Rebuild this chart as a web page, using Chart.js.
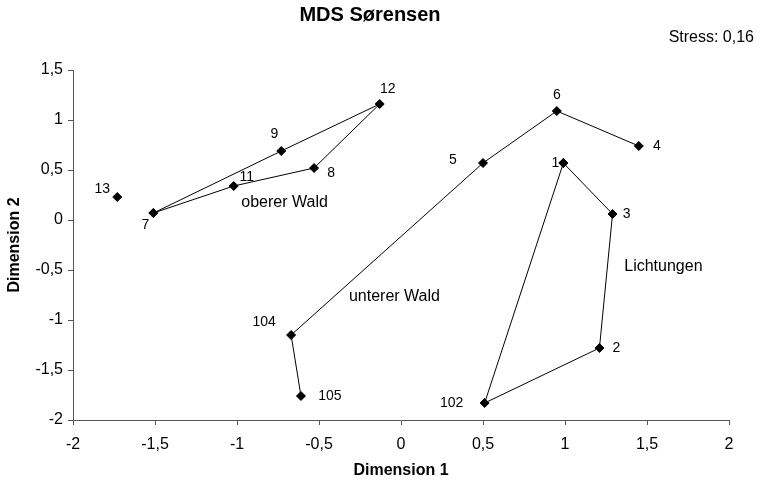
<!DOCTYPE html>
<html>
<head>
<meta charset="utf-8">
<script src="https://cdn.jsdelivr.net/npm/chart.js@4/dist/chart.umd.min.js"></script>
<style>
html,body{margin:0;padding:0;background:#fff;}
#wrap{width:761px;height:480px;position:relative;}
</style>
</head>
<body>
<div id="wrap"><canvas id="c" width="761" height="480"></canvas></div>
<script>
// ---- data ----
const sites = ['1','2','3','4','5','6','7','8','9','11','12','13','102','104','105'];
const dim1  = [0.99, 1.21, 1.29, 1.45, 0.50, 0.95, -1.51, -0.53, -0.73, -1.02, -0.13, -1.73, 0.51, -0.67, -0.61];
const dim2  = [0.57, -1.28, 0.06, 0.74, 0.57, 1.09, 0.07, 0.52, 0.69, 0.34, 1.16, 0.23, -1.83, -1.15, -1.76];

const obererWald  = ['7','9','12','8','11','7'];
const untererWald = ['105','104','5','6','4'];
const lichtungen  = ['1','3','2','102','1'];
const ungrouped   = ['13'];

const groupNames = ['oberer Wald', 'unterer Wald', 'Lichtungen'];
const groupLabelX = [-0.71, -0.04, 1.60];
const groupLabelY = [0.17, -0.77, -0.47];

const titleText = 'MDS Sørensen';
const stressText = 'Stress: 0,16';
const xTitle = 'Dimension 1';
const yTitle = 'Dimension 2';

// ---- styling (label placement offsets in px) ----
const labelOffsets = {'1':[-8,0],'2':[17,0],'3':[14,0],'4':[18,0],'5':[-30,-3],'6':[0,-16],
  '7':[-8,12],'8':[17,5],'9':[-7,-17],'11':[13,-9],'12':[8,-15],'13':[-15,-8],
  '102':[-33,0],'104':[-27,-13],'105':[29,0]};
const FONT = "'Liberation Sans', Arial, sans-serif";

function pts(ids){
  return ids.map(id => { const i = sites.indexOf(id); return {x: dim1[i], y: dim2[i], id: id}; });
}
function fmt(v){ return String(Math.round(v*10)/10).replace('.', ','); }

const dsBase = {
  showLine: true, borderColor: '#000', borderWidth: 1,
  pointStyle: 'rectRot', pointRadius: 4.5, pointBorderWidth: 1,
  pointBackgroundColor: '#000', pointBorderColor: '#000', fill: false, tension: 0
};

const labelPlugin = {
  id: 'labels',
  afterDatasetsDraw(chart){
    const ctx = chart.ctx, xs = chart.scales.x, ys = chart.scales.y;
    ctx.save();
    ctx.fillStyle = '#000';
    ctx.textAlign = 'center';
    ctx.textBaseline = 'middle';
    ctx.font = '14px ' + FONT;
    sites.forEach((id, i) => {
      const o = labelOffsets[id] || [10,0];
      ctx.fillText(id, xs.getPixelForValue(dim1[i]) + o[0], ys.getPixelForValue(dim2[i]) + o[1]);
    });
    ctx.font = '16px ' + FONT;
    groupNames.forEach((g, i) => {
      ctx.fillText(g, xs.getPixelForValue(groupLabelX[i]), ys.getPixelForValue(groupLabelY[i]));
    });
    ctx.textAlign = 'right';
    ctx.fillText(stressText, 754, 38);
    ctx.restore();
  }
};

new Chart(document.getElementById('c'), {
  type: 'scatter',
  data: {
    datasets: [
      Object.assign({label: 'oberer Wald', data: pts(obererWald)}, dsBase),
      Object.assign({label: 'unterer Wald', data: pts(untererWald)}, dsBase),
      Object.assign({label: 'Lichtungen', data: pts(lichtungen)}, dsBase),
      Object.assign({label: 'ungrouped', data: pts(ungrouped)}, dsBase, {showLine: false})
    ]
  },
  options: {
    responsive: false,
    animation: false,
    layout: { padding: { left: 11, right: 32, top: 0, bottom: 0 } },
    plugins: {
      legend: { display: false },
      tooltip: { enabled: false },
      title: {
        display: true, text: titleText, color: '#000',
        font: { family: FONT, size: 20, weight: 'bold', lineHeight: 1.2 },
        padding: { top: 3, bottom: 43 }
      }
    },
    scales: {
      x: {
        type: 'linear', min: -2, max: 2,
        ticks: { stepSize: 0.5, color: '#000', padding: 10, maxRotation: 0,
                 font: { family: FONT, size: 16, lineHeight: 1.2 }, callback: v => fmt(v) },
        grid: { display: true, drawOnChartArea: false, drawTicks: true, tickLength: 5, color: '#555' },
        border: { display: true, color: '#555', width: 1 },
        title: { display: true, text: xTitle, color: '#000', padding: { top: 0, bottom: 0 },
                 font: { family: FONT, size: 16, weight: 'bold', lineHeight: 1.2 } },
        afterFit(s){ s.height = 60; }
      },
      y: {
        type: 'linear', min: -2, max: 1.5,
        ticks: { stepSize: 0.5, color: '#000', padding: 5,
                 font: { family: FONT, size: 16, lineHeight: 1.2 }, callback: v => fmt(v) },
        grid: { display: true, drawOnChartArea: false, drawTicks: true, tickLength: 5, color: '#555' },
        border: { display: true, color: '#555', width: 1 },
        title: { display: true, text: yTitle, color: '#000', padding: { top: -6.5, bottom: 0 },
                 font: { family: FONT, size: 16, weight: 'bold', lineHeight: 1.2 } },
        afterFit(s){ s.width = 62; }
      }
    }
  },
  plugins: [labelPlugin]
});
</script>
</body>
</html>
